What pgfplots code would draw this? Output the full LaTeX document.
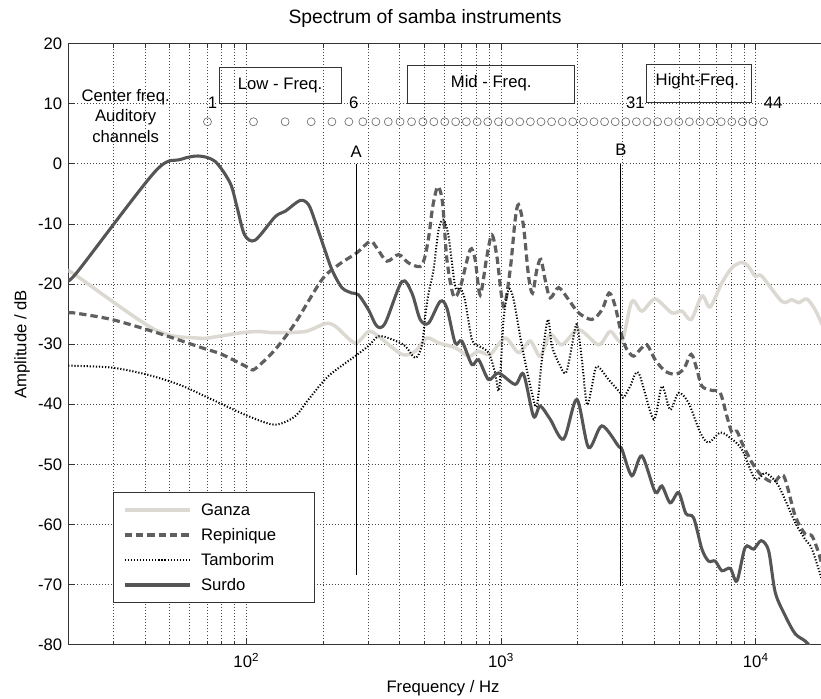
\documentclass[border=0pt]{standalone}
\usepackage{fontspec}
\setmainfont{Liberation Sans}
\usepackage{pgfplots}
\usepackage{pgfplotstable}
\pgfplotsset{compat=1.18}

\definecolor{ganza}{RGB}{220,216,210}
\definecolor{repin}{RGB}{95,95,95}
\definecolor{surdo}{RGB}{85,85,85}
\definecolor{gridc}{RGB}{70,70,70}
\definecolor{circ}{RGB}{110,110,110}
\newcommand{\fs}{\fontsize{12.5}{15.4}\selectfont}

% spectra, frequency in Hz, amplitude in dB
\pgfplotstableread{
f a
20 -18.1
21.0 -18.3
43.8 -27.6
64.9 -29.0
77.8 -28.7
96.0 -28.1
111.7 -27.9
129.8 -28.1
170.2 -27.9
203.9 -26.6
223.2 -27.0
267.4 -29.8
301.8 -27.9
330.4 -28.7
407.9 -31.7
459.9 -31.2
511.3 -29.0
568.4 -29.8
660.4 -30.6
745.6 -32.0
816.1 -31.2
906.3 -31.7
1038 -29.0
1171 -31.4
1301 -29.5
1424 -32.0
1559 -28.4
1733 -30.1
2016 -27.6
2414 -30.1
2681 -27.9
2981 -29.5
3262 -22.9
3572 -24.5
4027 -22.5
4684 -24.8
5128 -24.5
5577 -25.9
6143 -22.0
6622 -23.8
7359 -19.8
8056 -17.3
8817 -16.4
9369 -17.1
9945 -18.7
10560 -18.7
12660 -22.9
13860 -22.6
14720 -23.1
15870 -22.5
17110 -24.3
18340 -27.0
20000 -29.5
}\ganza

\pgfplotstableread{
f a
20 -24.9
21.0 -24.8
29.6 -25.9
43.8 -28.0
66.9 -30.6
80.1 -31.7
102.0 -33.9
108.3 -34.1
129.8 -30.9
155.4 -26.5
197.9 -19.3
230.1 -16.8
271.6 -14.8
306.2 -12.9
325.4 -14.0
356.2 -16.2
396.0 -15.1
433.4 -16.5
481.3 -17.1
502.1 -15.5
520.6 -12.0
539.8 -7.0
564.7 -3.8
589.3 -6.5
612.8 -15.9
650.9 -22.0
690.9 -20.6
756.1 -14.3
791.0 -15.9
827.8 -21.8
879.6 -15.4
920.2 -11.8
962.7 -15.4
1023 -23.7
1086 -17.6
1136 -9.3
1171 -6.8
1225 -10.4
1282 -18.7
1329 -21.5
1382 -17.6
1433 -15.9
1490 -19.3
1559 -22.3
1682 -20.6
1841 -22.6
2016 -24.8
2273 -25.9
2488 -24.3
2657 -21.5
2805 -23.7
2981 -28.7
3118 -30.9
3313 -32.0
3516 -30.9
3737 -30.1
4027 -32.6
4408 -34.5
4826 -35.0
5206 -34.2
5577 -31.7
5871 -34.2
6143 -37.0
6725 -37.7
7248 -38.1
7701 -42.0
8056 -44.7
8431 -44.5
8817 -46.4
9654 -49.7
10560 -51.9
11750 -53.0
12860 -51.9
14280 -58.6
15630 -61.6
16610 -61.9
17640 -64.7
18340 -67.4
}\repinique

\pgfplotstableread{
f a
20 -33.6
21.0 -33.6
29.6 -33.9
40.1 -35.0
54.2 -36.7
73.2 -39.2
102.0 -42.0
129.8 -43.4
155.4 -42.0
175.5 -39.2
210.2 -35.3
267.4 -32.0
301.8 -30.3
330.4 -28.7
372.7 -29.2
420.3 -30.3
459.9 -32.3
488.7 -30.3
503.5 -25.4
519.3 -21.5
543.3 -17.6
568.4 -11.0
594.6 -9.3
622.3 -12.1
660.4 -20.4
690.9 -20.6
721.0 -22.6
768.3 -29.2
816.1 -30.3
893.2 -31.4
948.0 -34.8
982.9 -37.5
1023 -25.9
1070 -20.9
1120 -22.6
1207 -30.3
1321 -38.1
1382 -40.3
1446 -32.6
1527 -25.9
1584 -30.3
1682 -33.1
1797 -34.8
1897 -30.3
1984 -26.7
2076 -32.6
2173 -40.0
2273 -37.0
2377 -33.7
2643 -35.9
2935 -38.1
3027 -38.9
3213 -37.0
3467 -34.8
3970 -42.5
4279 -37.0
4612 -40.9
4976 -38.1
5448 -39.8
6050 -44.7
6525 -46.4
7248 -44.7
7936 -45.6
8817 -47.5
9945 -52.5
10890 -51.4
11920 -52.8
12660 -54.7
14280 -59.7
15630 -62.5
16610 -64.1
18340 -69.7
}\tamborim

\pgfplotstableread{
f a
20 -19.0
21.6 -18.1
43.8 -1.3
55.0 0.7
64.9 1.3
75.4 0.4
86.4 -3.2
91.8 -7.1
98.4 -11.8
108.3 -12.7
129.8 -8.8
142.0 -7.9
162.7 -6.1
175.5 -6.8
186.3 -9.6
201.0 -13.7
216.7 -17.6
237.1 -20.6
259.6 -21.5
275.7 -21.8
301.8 -24.3
325.4 -27.0
350.8 -26.5
407.9 -19.6
446.5 -21.5
481.3 -25.9
519.3 -26.5
576.7 -22.9
612.8 -24.0
660.4 -29.8
701.8 -29.5
768.3 -33.4
816.1 -32.6
893.2 -35.9
977.7 -34.8
1136 -36.7
1225 -35.0
1341 -42.0
1424 -40.3
1559 -42.5
1760 -45.8
1984 -39.2
2206 -47.2
2488 -43.6
2893 -47.0
2981 -47.5
3262 -51.9
3572 -48.6
4027 -54.6
4279 -53.6
4612 -56.4
4976 -54.7
5316 -58.2
5700 -58.9
6143 -64.1
6525 -66.1
6928 -66.1
7359 -67.7
7936 -67.3
8431 -69.4
9087 -63.8
9804 -64.1
10500 -62.7
11230 -64.4
11920 -71.3
13050 -75.2
14280 -78.2
15630 -79.4
16920 -81.0
}\surdo

% centre frequencies of the auditory channels
\pgfplotstableread{
f a
70.4 7
106.7 7
142.0 7
179.7 7
216.7 7
252.6 7
286.7 7
322.5 7
360.7 7
401.3 7
445.3 7
493.2 7
544.8 7
601.2 7
663.4 7
730.7 7
805.6 7
886.7 7
976.8 7
1076 7
1184 7
1303 7
1435 7
1579 7
1738 7
1912 7
2104 7
2316 7
2549 7
2805 7
3087 7
3398 7
3739 7
4115 7
4530 7
4985 7
5486 7
6038 7
6645 7
7313 7
8050 7
8859 7
9750 7
10730 7
}\channels

\begin{document}
\begin{tikzpicture}
\begin{axis}[
    scale only axis,
    width=573.1pt, height=450.75pt,
    xmode=log,
    xmin=20, xmax=20000,
    ymin=-80, ymax=20,
    xtick={100,1000,10000},
    xticklabels={10\textsuperscript{2},10\textsuperscript{3},10\textsuperscript{4}},
    minor xtick={20,30,40,50,60,70,80,90,200,300,400,500,600,700,800,900,2000,3000,4000,5000,6000,7000,8000,9000},
    ytick={-80,-70,...,20},
    yticklabels={-80,-70,-60,-50,-40,-30,-20,-10,0,10,20},
    tick label style={font=\fs},
    xticklabel style={yshift=-3pt},
    yticklabel style={xshift=-1pt},
    tick align=inside,
    major tick length=5pt, minor tick length=3pt,
    every tick/.style={black!80, line width=0.5pt},
    axis line style={black!80, line width=0.6pt},
    grid=both,
    major grid style={gridc, line width=0.5pt, dash pattern=on 0.7pt off 1.6pt},
    minor grid style={gridc, line width=0.5pt, dash pattern=on 0.7pt off 1.6pt},
    title={Spectrum of samba instruments},
    title style={at={(axis description cs:0.4668,1.028)}, anchor=center, font=\fontsize{14.5}{17}\selectfont},
    xlabel={Frequency / Hz},
    xlabel style={at={(axis description cs:0.4904,-0.0732)}, anchor=center, font=\fs},
    ylabel={Amplitude / dB},
    ylabel style={at={(axis description cs:-0.0606,0.5)}, anchor=center, font=\fs},
    legend cell align=left,
    legend image code/.code={\draw[#1] (0pt,0pt) -- (49pt,0pt);},
    legend style={at={(rel axis cs:0.0589,0.0693)}, anchor=south west,
        draw=black!80, fill=white, font=\fs, row sep=4.2pt, column sep=5pt,
        inner xsep=7pt, inner ysep=6pt,
        /tikz/every even column/.append style={text width=76pt}},
]

\addplot[ganza, line width=2.6pt, smooth] table[x=f, y=a] {\ganza};
\addlegendentry{Ganza}
\addplot[repin, line width=2.4pt, dash pattern=on 5.5pt off 3pt, smooth] table[x=f, y=a] {\repinique};
\addlegendentry{Repinique}
\addplot[black, line width=1.5pt, dash pattern=on 0.9pt off 1.4pt, smooth] table[x=f, y=a] {\tamborim};
\addlegendentry{Tamborim}
\addplot[surdo, line width=2.3pt, smooth] table[x=f, y=a] {\surdo};
\addlegendentry{Surdo}

% auditory channel centre frequencies
\addplot[only marks, mark=o, mark size=3pt, circ, mark options={line width=0.5pt}, forget plot] table[x=f, y=a] {\channels};

% markers A and B
\addplot[black, line width=0.7pt, forget plot] coordinates {(269.9,0) (269.9,-68.4)};
\addplot[black, line width=0.7pt, forget plot] coordinates {(2953,0) (2953,-70.3)};
\node[font=\fs] at (axis cs:269.9,2.0) {A};
\node[font=\fs] at (axis cs:2953,2.4) {B};

% channel numbers
\node[font=\fs, anchor=west, inner sep=0pt] at (axis cs:70.4,10.1) {1};
\node[font=\fs, anchor=west, inner sep=0pt] at (axis cs:252.6,10.1) {6};
\node[font=\fs, anchor=west, inner sep=0pt] at (axis cs:3087,10.1) {31};
\node[font=\fs, anchor=west, inner sep=0pt] at (axis cs:10730,10.1) {44};

\node[font=\fs, align=center] at (axis cs:33.6,8.0) {Center freq.\\Auditory\\channels};

% frequency bands
\draw[black!80, line width=0.6pt] (axis cs:78.2,16.06) rectangle (axis cs:235.6,9.97);
\node[font=\fs] at (axis cs:135.7,13.1) {Low - Freq.};
\draw[black!80, line width=0.6pt] (axis cs:430.6,16.45) rectangle (axis cs:1944,9.97);
\node[font=\fs] at (axis cs:914.4,13.4) {Mid - Freq.};
\draw[black!80, line width=0.6pt] (axis cs:3736,16.56) rectangle (axis cs:9592,10.18);
\node[font=\fs] at (axis cs:5900,13.7) {Hight-Freq.};
\end{axis}
\pgfresetboundingbox
\path[use as bounding box] (-51.2pt,-40.5pt) rectangle (564.5pt,483.45pt);
\end{tikzpicture}
\end{document}
